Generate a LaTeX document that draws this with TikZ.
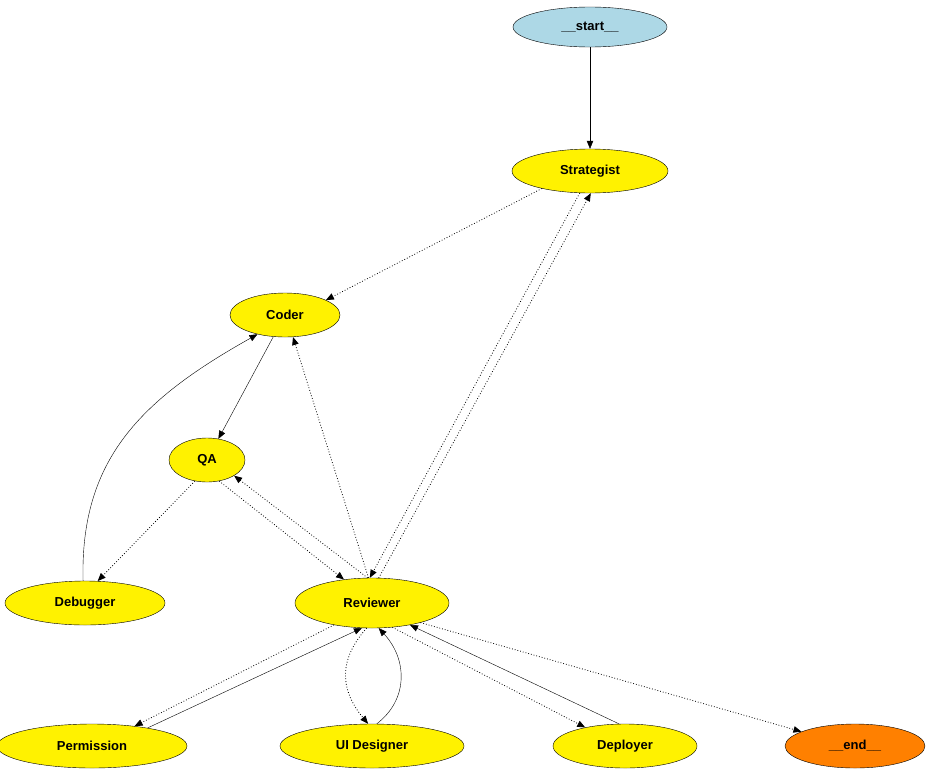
\documentclass[tikz,border=0pt]{standalone}
\usepackage{fontspec}
\setmainfont{Liberation Sans}
\usetikzlibrary{shapes.geometric,arrows.meta}
\begin{document}
\begin{tikzpicture}[x=1pt,y=-1pt,
  nd/.style={ellipse,draw=black,fill=yellow,inner sep=0pt,font=\bfseries\fontsize{13}{15}\selectfont},
  e/.style={draw=black,-{Triangle[length=8pt,width=6.5pt]}},
  d/.style={e,dotted,line width=0.8pt}]
\useasboundingbox (0,0) rectangle (933,779);
\node[nd,fill={rgb,255:red,173;green,216;blue,230},minimum width=154,minimum height=40] (start) at (590,27) {\_\_start\_\_};
\node[nd,minimum width=156,minimum height=44] (strat) at (590,171) {Strategist};
\node[nd,minimum width=110,minimum height=44] (coder) at (285,315) {Coder};
\node[nd,minimum width=76,minimum height=44] (qa) at (207,460) {QA};
\node[nd,minimum width=160,minimum height=44] (dbg) at (85,603) {Debugger};
\node[nd,minimum width=154,minimum height=50] (rev) at (372,603) {Reviewer};
\node[nd,minimum width=190,minimum height=44] (perm) at (92,746) {Permission};
\node[nd,minimum width=184,minimum height=44] (ui) at (372,746) {UI Designer};
\node[nd,minimum width=144,minimum height=44] (dep) at (625,746) {Deployer};
\node[nd,fill=orange,minimum width=140,minimum height=44] (end) at (855,746) {\_\_end\_\_};
\draw[e] (start) -- (strat);
\draw[d] (strat.200) -- (coder.20);
\draw[d] (strat.245) -- (rev.95);
\draw[d] (rev.75) -- (strat.272);
\draw[e] (coder) -- (qa);
\draw[e] (dbg.95) .. controls (80,460) and (140,400) .. (coder.215);
\draw[d] (qa.240) -- (dbg.60);
\draw[d] (qa.300) -- (rev.140);
\draw[d] (rev.100) -- (qa.330);
\draw[d] (rev.98) -- (coder.290);
\draw[d] (rev.210) -- (perm.25);
\draw[e] (perm.18) -- (rev.248);
\draw[d] (rev.258) .. controls (338,660) and (340,690) .. (ui.100);
\draw[e] (ui.78) .. controls (408,700) and (408,660) .. (rev.285);
\draw[d] (rev.310) -- (dep.155);
\draw[e] (dep.105) -- (rev.330);
\draw[d] (rev.338) -- (end.165);
\end{tikzpicture}
\end{document}
